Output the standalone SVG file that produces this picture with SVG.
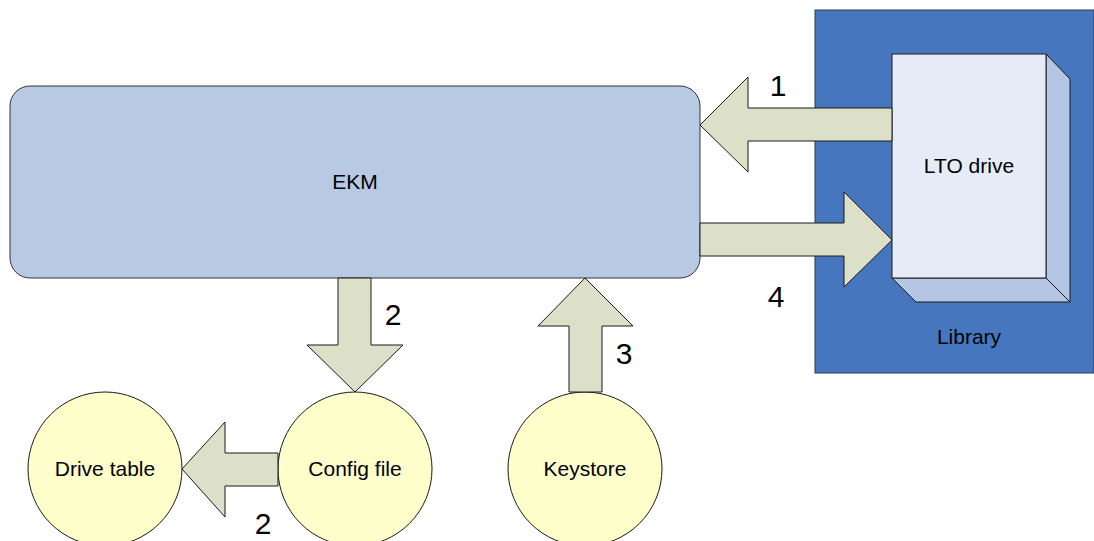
<svg xmlns="http://www.w3.org/2000/svg" width="1094" height="541" viewBox="0 0 1094 541">
<style>
.t{font-family:"Liberation Sans",Arial,sans-serif;font-size:21px;fill:#000;text-anchor:middle}
.n{font-family:"Liberation Sans",Arial,sans-serif;font-size:30px;fill:#000;text-anchor:middle}
.arr{fill:#dce0c9;stroke:#1a1a1a;stroke-width:1}
.circ{fill:#ffffcc;stroke:#1a1a1a;stroke-width:1}
</style>
<rect width="1094" height="541" fill="#fff"/>
<g id="library">
<rect x="815" y="10" width="279" height="363" fill="#4677be" stroke="#2a3a55" stroke-width="1"/>
<text class="t" x="969" y="344">Library</text>
</g>
<g id="lto-drive">
<polygon points="1046,54 1070,79 1070,302 1046,278" fill="#b4c6e4" stroke="#1a1a1a" stroke-width="1"/>
<polygon points="892,278 1046,278 1070,302 916,302" fill="#b4c6e4" stroke="#1a1a1a" stroke-width="1"/>
<rect x="892" y="54" width="154" height="224" fill="#e6ecf7" stroke="#1a1a1a" stroke-width="1"/>
<text class="t" x="969" y="173">LTO drive</text>
</g>
<g id="ekm">
<rect x="10" y="86" width="690" height="192" rx="20" ry="20" fill="#b7c9e3" stroke="#333" stroke-width="1"/>
<text class="t" x="355" y="189">EKM</text>
</g>
<g id="drive-table">
<circle class="circ" cx="105" cy="469" r="77"/>
<text class="t" x="105" y="476">Drive table</text>
</g>
<g id="config-file">
<circle class="circ" cx="355" cy="469" r="77"/>
<text class="t" x="355" y="476">Config file</text>
</g>
<g id="keystore">
<circle class="circ" cx="585" cy="469" r="77"/>
<text class="t" x="585" y="476">Keystore</text>
</g>
<g id="connectors">
<polygon class="arr" points="892,108 748,108 748,77 700,125 748,172 748,141 892,141"/>
<polygon class="arr" points="700,223 844,223 844,192 892,240 844,287 844,256 700,256"/>
<polygon class="arr" points="338,278 371,278 371,345 403,345 355,392 307,345 338,345"/>
<polygon class="arr" points="278,453 225,453 225,422 182,469 225,517 225,486 278,486"/>
<polygon class="arr" points="569,392 569,326 538,326 585,278 633,326 602,326 602,392"/>
<text class="n" x="778" y="96">1</text>
<text class="n" x="776" y="307">4</text>
<text class="n" x="393" y="325">2</text>
<text class="n" x="263" y="534">2</text>
<text class="n" x="624" y="364">3</text>
</g>
</svg>
